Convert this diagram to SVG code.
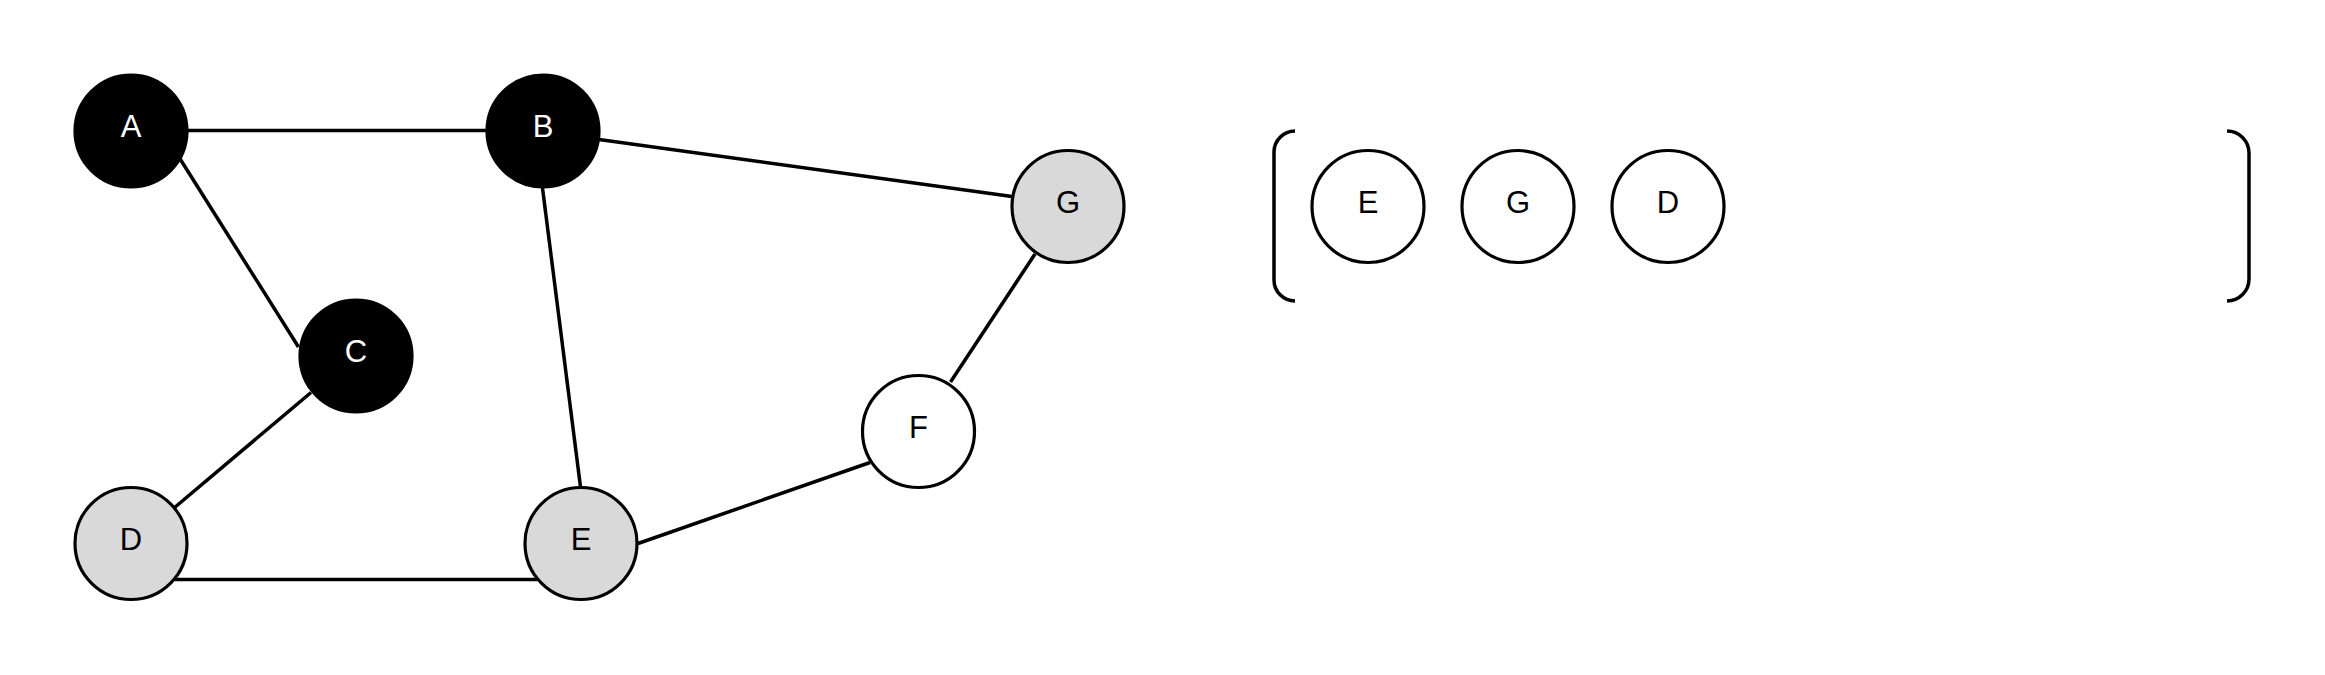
<svg xmlns="http://www.w3.org/2000/svg" width="2325" height="675" viewBox="0 0 2325 675">
<style>
.edge{stroke:#000;stroke-width:3.5;fill:none;stroke-linecap:butt}
.node circle{stroke:#000;stroke-width:3.2}
.black circle{fill:#000}
.gray circle{fill:#d9d9d9}
.white circle{fill:#fff}
.node text{font-family:"Liberation Sans",Arial,sans-serif;font-size:31px;text-anchor:middle}
.black text{fill:#fff}
.gray text,.white text{fill:#000}
.bracket{stroke:#000;stroke-width:3.5;fill:none}
</style>
<rect width="2325" height="675" fill="#fff"/>
<g id="edges">
<line class="edge" x1="186" y1="130.5" x2="487" y2="130.5"/>
<line class="edge" x1="179.5" y1="158" x2="298.5" y2="347"/>
<line class="edge" x1="311" y1="392.5" x2="174" y2="508"/>
<line class="edge" x1="542.5" y1="188" x2="580.5" y2="487"/>
<line class="edge" x1="599" y1="139.5" x2="1012" y2="196.5"/>
<line class="edge" x1="1035" y1="254" x2="950.5" y2="382"/>
<line class="edge" x1="870" y1="462.5" x2="638" y2="543.5"/>
<line class="edge" x1="175" y1="579.5" x2="537" y2="579.5"/>
</g>
<g id="node-A" class="node black"><circle cx="131" cy="131" r="56"/><text x="131" y="137">A</text></g>
<g id="node-B" class="node black"><circle cx="543" cy="131" r="56"/><text x="543" y="137">B</text></g>
<g id="node-C" class="node black"><circle cx="356" cy="356" r="56"/><text x="356" y="362">C</text></g>
<g id="node-D" class="node gray"><circle cx="131" cy="543.5" r="56"/><text x="131" y="549.5">D</text></g>
<g id="node-E" class="node gray"><circle cx="581" cy="543.5" r="56"/><text x="581" y="549.5">E</text></g>
<g id="node-F" class="node white"><circle cx="918.5" cy="431.5" r="56"/><text x="918.5" y="437.5">F</text></g>
<g id="node-G" class="node gray"><circle cx="1068" cy="206.5" r="56"/><text x="1068" y="212.5">G</text></g>
<g id="queue">
<path class="bracket" d="M1295,131 A21,21 0 0 0 1274,152 V280 A21,21 0 0 0 1295,301"/>
<path class="bracket" d="M2227,131 A22,22 0 0 1 2249,153 V279 A22,22 0 0 1 2227,301"/>
</g>
<g id="queue-E" class="node white"><circle cx="1368" cy="206.5" r="56"/><text x="1368" y="212.5">E</text></g>
<g id="queue-G" class="node white"><circle cx="1518" cy="206.5" r="56"/><text x="1518" y="212.5">G</text></g>
<g id="queue-D" class="node white"><circle cx="1668" cy="206.5" r="56"/><text x="1668" y="212.5">D</text></g>
</svg>
